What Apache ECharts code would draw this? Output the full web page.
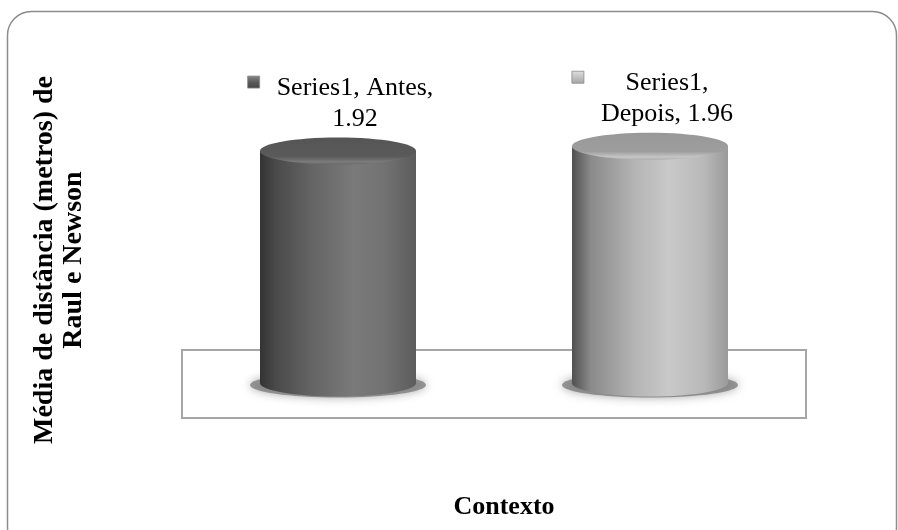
<!DOCTYPE html>
<html>
<head>
<meta charset="utf-8">
<script src="https://cdn.jsdelivr.net/npm/echarts@6/dist/echarts.min.js"></script>
<style>
  html, body { margin: 0; padding: 0; background: #ffffff; }
  #chart { width: 898px; height: 530px; }
</style>
</head>
<body>
<div id="chart"></div>
<script>
// Data
const seriesName = 'Series1';
const categories = ['Antes', 'Depois'];
const values = [1.92, 1.96];

// Layout (pixels)
const GRID_LEFT = 182;
const GRID_RIGHT = 92;
const BASE_Y = 383;              // pixel row of value 0
const Y_MAX = 2.5;
const PX_PER_UNIT = 120.8;
const GRID_TOP = BASE_Y - PX_PER_UNIT * Y_MAX;
const GRID_BOTTOM = 530 - BASE_Y;

const LABEL_FONT = 'Liberation Serif';
const LABEL_SIZE = 26;
const LABEL_LINE = 31;
const TITLE_FONT = 'Liberation Serif';

// Cylinder looks, one per category
const looks = [
  {
    body: [['#333333', 0], ['#4a4a4a', 0.1], ['#666666', 0.35], ['#7a7a7a', 0.6], ['#727272', 0.8], ['#5c5c5c', 1]],
    top: [['#555555', 0], ['#5a5a5a', 0.7], ['#7c7c7c', 0.9], ['#686868', 1]],
    key: [['#8a8a8a', 0], ['#5a5a5a', 0.5], ['#444444', 1]]
  },
  {
    body: [['#505050', 0], ['#8a8a8a', 0.12], ['#b4b4b4', 0.4], ['#c9c9c9', 0.62], ['#b8b8b8', 0.85], ['#9a9a9a', 1]],
    top: [['#989898', 0], ['#9e9e9e', 0.7], ['#c6c6c6', 0.9], ['#aeaeae', 1]],
    key: [['#e0e0e0', 0], ['#c2c2c2', 0.5], ['#a4a4a4', 1]]
  }
];

function linear(stops, vertical) {
  return new echarts.graphic.LinearGradient(0, 0, vertical ? 0 : 1, vertical ? 1 : 0,
    stops.map(s => ({ color: s[0], offset: s[1] })));
}

const measureCtx = document.createElement('canvas').getContext('2d');
function textWidth(str) {
  measureCtx.font = LABEL_SIZE + 'px "' + LABEL_FONT + '"';
  return measureCtx.measureText(str).width;
}
// word-wrap a label to a maximum width
function wrap(str, maxW) {
  const words = str.split(' ');
  const lines = [];
  let cur = '';
  words.forEach(w => {
    const test = cur ? cur + ' ' + w : w;
    if (cur && textWidth(test) > maxW) { lines.push(cur); cur = w; }
    else cur = test;
  });
  if (cur) lines.push(cur);
  return lines;
}

function renderCylinder(params, api) {
  const idx = api.value(0);
  const val = api.value(1);
  const top = api.coord([idx, val]);
  const base = api.coord([idx, 0]);
  const band = api.size([1, 0])[0];
  const w = band * 0.5;
  const rx = w / 2;
  const ry = 13.5;
  const cx = top[0];
  const look = looks[idx % looks.length];
  const bodyFill = linear(look.body, false);

  const text = seriesName + ', ' + categories[idx] + ', ' + val.toFixed(2);
  const lines = wrap(text, w + 8);
  const maxW = Math.max.apply(null, lines.map(textWidth));
  const textX = cx + 17;
  const textBottom = top[1] - ry - 3;
  const firstLineMid = textBottom - LABEL_LINE * lines.length + LABEL_LINE / 2;

  return {
    type: 'group',
    children: [
      {
        type: 'ellipse',
        shape: { cx: cx, cy: base[1] + 2, rx: rx + 10, ry: ry - 1 },
        style: { fill: 'rgba(120,120,120,0.75)', shadowBlur: 10, shadowColor: 'rgba(0,0,0,0.45)' }
      },
      {
        type: 'ellipse',
        shape: { cx: cx, cy: base[1], rx: rx, ry: ry },
        style: { fill: bodyFill }
      },
      {
        type: 'rect',
        shape: { x: cx - rx, y: top[1], width: w, height: base[1] - top[1] },
        style: { fill: bodyFill }
      },
      {
        type: 'ellipse',
        shape: { cx: cx, cy: top[1], rx: rx, ry: ry },
        style: { fill: linear(look.top, true) }
      },
      {
        type: 'rect',
        shape: { x: textX - maxW / 2 - 29, y: firstLineMid - 12, width: 12, height: 12 },
        style: { fill: linear(look.key, true), stroke: '#8a8a8a', lineWidth: 0.8 }
      },
      {
        type: 'text',
        x: textX,
        y: textBottom,
        style: {
          text: lines.join('\n'),
          fill: '#000000',
          fontFamily: LABEL_FONT,
          fontSize: LABEL_SIZE,
          lineHeight: LABEL_LINE,
          align: 'center',
          verticalAlign: 'bottom',
          textAlign: 'center',
          textVerticalAlign: 'bottom'
        }
      }
    ]
  };
}

const chart = echarts.init(document.getElementById('chart'), null, { renderer: 'canvas' });

chart.setOption({
  backgroundColor: '#ffffff',
  animation: false,
  grid: { left: GRID_LEFT, right: GRID_RIGHT, top: GRID_TOP, bottom: GRID_BOTTOM },
  xAxis: {
    type: 'category',
    data: categories,
    axisLine: { show: false },
    axisTick: { show: false },
    axisLabel: { show: false }
  },
  yAxis: {
    type: 'value',
    min: 0,
    max: Y_MAX,
    axisLine: { show: false },
    axisTick: { show: false },
    axisLabel: { show: false },
    splitLine: { show: false }
  },
  graphic: [
    {
      type: 'rect',
      z: -10,
      shape: { x: 7.5, y: 11.5, width: 889, height: 540, r: 24 },
      style: { fill: 'none', stroke: '#8c8c8c', lineWidth: 1.5 }
    },
    {
      type: 'rect',
      z: -5,
      shape: { x: GRID_LEFT, y: BASE_Y - 33, width: 898 - GRID_RIGHT - GRID_LEFT, height: 68 },
      style: { fill: 'none', stroke: '#a6a6a6', lineWidth: 2 }
    },
    {
      type: 'text',
      x: 59,
      y: 260,
      rotation: Math.PI / 2,
      style: {
        text: 'Média de distância (metros) de\nRaul e Newson',
        fill: '#000000',
        fontFamily: TITLE_FONT,
        fontWeight: 'bold',
        fontSize: 28,
        lineHeight: 29,
        align: 'center',
        verticalAlign: 'middle',
        textAlign: 'center',
        textVerticalAlign: 'middle'
      }
    },
    {
      type: 'text',
      x: 504,
      y: 507,
      style: {
        text: 'Contexto',
        fill: '#000000',
        fontFamily: TITLE_FONT,
        fontWeight: 'bold',
        fontSize: 26,
        align: 'center',
        verticalAlign: 'middle',
        textAlign: 'center',
        textVerticalAlign: 'middle'
      }
    }
  ],
  series: [
    {
      type: 'custom',
      name: seriesName,
      renderItem: renderCylinder,
      data: values.map((v, i) => [i, v]),
      encode: { x: 0, y: 1 },
      clip: false
    }
  ]
});
</script>
</body>
</html>
